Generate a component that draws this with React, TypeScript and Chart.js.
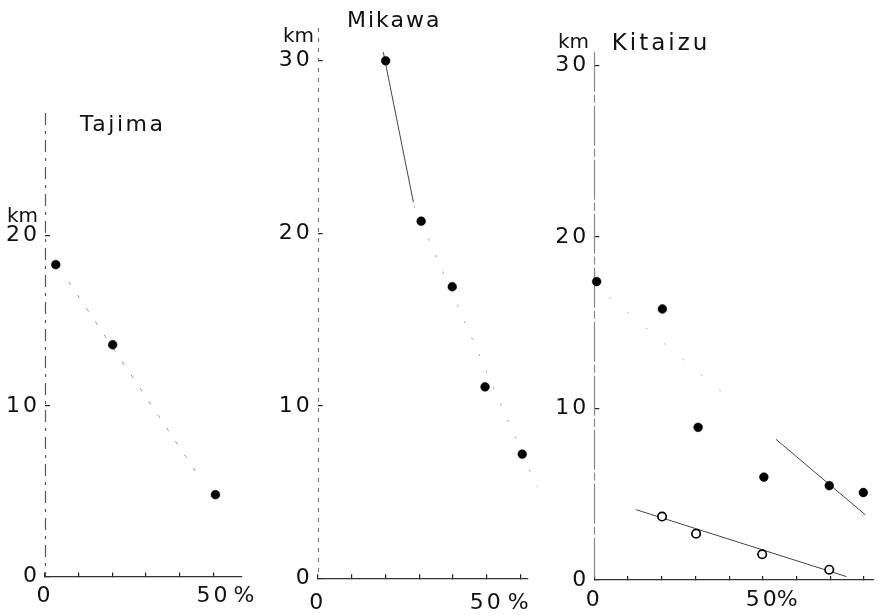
import React, { useEffect, useRef } from "react";
import { Chart, registerables } from "chart.js";

Chart.register(...registerables);

// ---------- data ----------
const tajimaX = [3.2, 20.1, 50.6];
const tajimaY = [18.3, 13.6, 4.8];
const tajimaFitX = [7, 46];
const tajimaFitY = [17.3, 5.8];

const mikawaX = [20.1, 30.6, 39.8, 49.5, 60.5];
const mikawaY = [30.0, 20.7, 16.9, 11.1, 7.2];
const mikawaFit1X = [19.4, 28.3];
const mikawaFit1Y = [30.5, 21.8];
const mikawaFit2X = [28.5, 64.8];
const mikawaFit2Y = [21.6, 5.3];

const kitaizuFilledX = [0.7, 20.2, 30.8, 50.3, 69.7, 79.8];
const kitaizuFilledY = [17.4, 15.8, 8.9, 6.0, 5.5, 5.1];
const kitaizuOpenX = [20.1, 30.2, 49.8, 69.7];
const kitaizuOpenY = [3.7, 2.7, 1.5, 0.6];
const kitaizuUpperFitX = [4.4, 41.5];
const kitaizuUpperFitY = [16.5, 10.35];
const kitaizuRightFitX = [53.9, 80.4];
const kitaizuRightFitY = [8.2, 3.8];
const kitaizuOpenFitX = [12.4, 74.8];
const kitaizuOpenFitY = [4.1, 0.2];

const xTickLabels: Record<number, string> = { 0: "0", 50: "50" };
const yTickStep = 10;
const xTickStep = 10;
const unitY = "km";
const unitX = "%";

const FONT = '"DejaVu Sans", sans-serif';

function pts(xs: number[], ys: number[]) {
  return xs.map((x, i) => ({ x, y: ys[i] }));
}

function filled(xs: number[], ys: number[]) {
  return {
    data: pts(xs, ys),
    showLine: false,
    pointRadius: 4.4,
    pointBackgroundColor: "#000",
    pointBorderColor: "#000",
    pointBorderWidth: 0.5,
    order: 0,
    clip: false as any,
  };
}
function open(xs: number[], ys: number[]) {
  return {
    data: pts(xs, ys),
    showLine: false,
    pointRadius: 4.2,
    pointBackgroundColor: "#fff",
    pointBorderColor: "#000",
    pointBorderWidth: 1.7,
    order: 0,
    clip: false as any,
  };
}
function fit(xs: number[], ys: number[], color: string, dash: number[], width = 1) {
  return {
    data: pts(xs, ys),
    showLine: true,
    pointRadius: 0,
    borderColor: color,
    borderWidth: width,
    borderDash: dash,
    order: 1,
    clip: false as any,
  };
}

type Spec = {
  title: string;
  canvasLeft: number;
  canvasWidth: number;
  axisLeft: number;
  padTop: number;
  padRight: number;
  xAxisHeight: number;
  xMax: number;
  yMax: number;
  yBorderColor: string;
  yBorderDash: number[];
  xLabelPad: number;
  titleX: number;
  titleY: number;
  titleSize: number;
  titleSpacing: number;
  kmX: number;
  kmY: number;
  pctDx: number;
  pctDy: number;
  datasets: any[];
};

const specs: Spec[] = [
  {
    title: "Tajima",
    canvasLeft: 0,
    canvasWidth: 262,
    axisLeft: 45,
    padTop: 113,
    padRight: 20.3,
    xAxisHeight: 38.5,
    xMax: 58.4,
    yMax: 27.2,
    yBorderColor: "#555",
    yBorderDash: [12, 6, 3, 6],
    xLabelPad: 11,
    titleX: 80,
    titleY: 131,
    titleSize: 22,
    titleSpacing: 2.5,
    kmX: 7,
    kmY: 221.5,
    pctDx: 20,
    pctDy: 20,
    datasets: [
      filled(tajimaX, tajimaY),
      fit(tajimaFitX, tajimaFitY, "#999", [4, 12]),
    ],
  },
  {
    title: "Mikawa",
    canvasLeft: 262,
    canvasWidth: 283,
    axisLeft: 55.7,
    padTop: 28,
    padRight: 17,
    xAxisHeight: 36.7,
    xMax: 62.2,
    yMax: 31.9,
    yBorderColor: "#777",
    yBorderDash: [4, 6],
    xLabelPad: 15.3,
    titleX: 347,
    titleY: 26.7,
    titleSize: 22,
    titleSpacing: 2,
    kmX: 283,
    kmY: 41.7,
    pctDx: 21,
    pctDy: 24.5,
    datasets: [
      filled(mikawaX, mikawaY),
      fit(mikawaFit1X, mikawaFit1Y, "#444", [], 1),
      fit(mikawaFit2X, mikawaFit2Y, "#999", [2, 16]),
    ],
  },
  {
    title: "Kitaizu",
    canvasLeft: 540,
    canvasWidth: 339,
    axisLeft: 54.3,
    padTop: 51.7,
    padRight: 1,
    xAxisHeight: 35,
    xMax: 82.7,
    yMax: 30.8,
    yBorderColor: "#888",
    yBorderDash: [40, 3, 8, 3],
    xLabelPad: 11,
    titleX: 611.7,
    titleY: 50,
    titleSize: 23,
    titleSpacing: 3,
    kmX: 558,
    kmY: 48,
    pctDx: 14,
    pctDy: 20,
    datasets: [
      filled(kitaizuFilledX, kitaizuFilledY),
      open(kitaizuOpenX, kitaizuOpenY),
      fit(kitaizuUpperFitX, kitaizuUpperFitY, "#aaa", [2, 22]),
      fit(kitaizuRightFitX, kitaizuRightFitY, "#444", [], 1),
      fit(kitaizuOpenFitX, kitaizuOpenFitY, "#444", [], 1),
    ],
  },
];

function Panel({ spec }: { spec: Spec }) {
  const ref = useRef<HTMLCanvasElement | null>(null);
  useEffect(() => {
    if (!ref.current) return;
    const annot = {
      id: "annot",
      beforeDraw(chart: any) {
        chart.ctx.letterSpacing = "3px";
      },
      beforeDatasetsDraw(chart: any) {
        const ctx = chart.ctx;
        const ys = chart.scales.y;
        const x = Math.round(ys.right) + 0.5;
        ctx.save();
        ctx.strokeStyle = spec.yBorderColor;
        ctx.lineWidth = 1.2;
        ctx.setLineDash(spec.yBorderDash);
        ctx.beginPath();
        ctx.moveTo(x, ys.top);
        ctx.lineTo(x, ys.bottom);
        ctx.stroke();
        ctx.restore();
      },
      afterDraw(chart: any) {
        const ctx = chart.ctx;
        const xs = chart.scales.x;
        ctx.save();
        ctx.fillStyle = "#111";
        ctx.textAlign = "left";
        ctx.textBaseline = "alphabetic";
        ctx.font = `${spec.titleSize}px ${FONT}`;
        ctx.letterSpacing = `${spec.titleSpacing}px`;
        ctx.fillText(spec.title, spec.titleX - spec.canvasLeft, spec.titleY);
        ctx.letterSpacing = "0px";
        ctx.font = `20px ${FONT}`;
        ctx.fillText(unitY, spec.kmX - spec.canvasLeft, spec.kmY);
        ctx.font = `22px ${FONT}`;
        ctx.textBaseline = "middle";
        ctx.fillText(unitX, xs.getPixelForValue(50) + spec.pctDx, xs.top + spec.pctDy);
        ctx.restore();
      },
    };
    const zeroPad = (scale: any) => {
      scale.paddingTop = 0;
      scale.paddingBottom = 0;
      scale.paddingLeft = 0;
      scale.paddingRight = 0;
    };
    const chart = new Chart(ref.current, {
      type: "scatter",
      data: { datasets: spec.datasets },
      options: {
        animation: false,
        responsive: false,
        devicePixelRatio: 1,
        layout: {
          padding: { top: spec.padTop, right: spec.padRight, left: 0, bottom: 0 },
        },
        plugins: {
          legend: { display: false },
          tooltip: { enabled: false },
        },
        scales: {
          x: {
            type: "linear",
            min: 0,
            max: spec.xMax,
            afterFit: (s: any) => {
              s.height = spec.xAxisHeight;
              zeroPad(s);
            },
            border: { display: true, color: "#333", width: 1.2 },
            grid: {
              display: true,
              drawOnChartArea: false,
              drawTicks: true,
              tickLength: -4,
              color: "#222",
              lineWidth: 1.2,
            },
            ticks: {
              stepSize: xTickStep,
              includeBounds: false,
              autoSkip: false,
              maxRotation: 0,
              padding: spec.xLabelPad,
              color: "#111",
              font: { family: FONT, size: 22 },
              callback: (v: any) => xTickLabels[Number(v)] ?? "",
            },
          },
          y: {
            type: "linear",
            min: 0,
            max: spec.yMax,
            afterFit: (s: any) => {
              s.width = spec.axisLeft;
              zeroPad(s);
            },
            border: { display: false },
            grid: {
              display: true,
              drawOnChartArea: false,
              drawTicks: true,
              tickLength: -5,
              color: "#222",
              lineWidth: 1.2,
            },
            ticks: {
              stepSize: yTickStep,
              includeBounds: false,
              padding: 10,
              color: "#111",
              font: { family: FONT, size: 22 },
              callback: (v: any) => String(v),
            },
          },
        },
      } as any,
      plugins: [annot],
    });
    return () => chart.destroy();
  }, [spec]);
  return (
    <canvas
      ref={ref}
      width={spec.canvasWidth}
      height={615}
      style={{
        position: "absolute",
        left: spec.canvasLeft,
        top: 0,
        width: spec.canvasWidth,
        height: 615,
      }}
    />
  );
}

export default function App() {
  return (
    <div
      style={{
        position: "absolute",
        left: 0,
        top: 0,
        width: 879,
        height: 615,
        background: "#fff",
        overflow: "hidden",
      }}
    >
      {specs.map((s) => (
        <Panel key={s.title} spec={s} />
      ))}
    </div>
  );
}
